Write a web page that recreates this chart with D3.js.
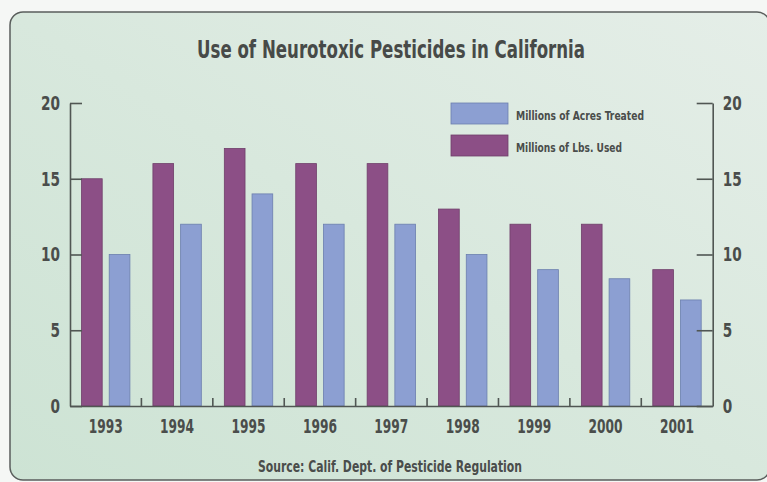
<!DOCTYPE html>
<html><head><meta charset="utf-8">
<script src="https://cdn.jsdelivr.net/npm/d3@7"></script>
<style>
html,body{margin:0;padding:0;background:#f5f7f5;}
svg{display:block;}
text{font-family:"DejaVu Sans Condensed","Liberation Sans Narrow","DejaVu Sans",sans-serif;font-stretch:condensed;fill:#4a4d4b;}
</style></head>
<body>
<script>
const years = ["1993","1994","1995","1996","1997","1998","1999","2000","2001"];
const lbsUsed = [15, 16, 17, 16, 16, 13, 12, 12, 9];
const acresTreated = [10, 12, 14, 12, 12, 10, 9, 8.4, 7];
const yTicks = [0, 5, 10, 15, 20];
const seriesNames = ["Millions of Lbs. Used", "Millions of Acres Treated"];
const titleText = "Use of Neurotoxic Pesticides in California";
const sourceText = "Source: Calif. Dept. of Pesticide Regulation";

const W = 767, H = 482;
const purple = "#8c4f86", blue = "#8c9fd2";
const axisColor = "#505653";

const svg = d3.select("body").append("svg").attr("width", W).attr("height", H);
const defs = svg.append("defs");
const grad = defs.append("linearGradient").attr("id","bg").attr("x1","0").attr("y1","1").attr("x2","1").attr("y2","0");
grad.append("stop").attr("offset","0").attr("stop-color","#cde3d4");
grad.append("stop").attr("offset","0.5").attr("stop-color","#d8e8dd");
grad.append("stop").attr("offset","1").attr("stop-color","#e5eee8");

svg.append("rect").attr("x",10).attr("y",12).attr("width",760).attr("height",468).attr("rx",13)
  .attr("fill","url(#bg)").attr("stroke","#5a5e5c").attr("stroke-width",1.5);

const x0 = 70, x1 = 712.7, yBase = 406, yTop = 103;
const x = d3.scaleBand().domain(years).range([x0, x1]).paddingInner(0).paddingOuter(0);
const xs = d3.scaleBand().domain(["lbs","acres"]).range([0, x.bandwidth()]).paddingInner(0.253).paddingOuter(0.415);
const y = d3.scaleLinear().domain([0, 20]).range([yBase, yTop]);

// title
svg.append("text").attr("x",391).attr("y",58).attr("text-anchor","middle")
  .attr("font-size",24).attr("font-weight","bold").attr("textLength",388).attr("lengthAdjust","spacingAndGlyphs")
  .style("fill","#474a48").text(titleText);

// bars
const g = svg.append("g");
const rows = years.map((yr,i)=>({yr, lbs: lbsUsed[i], acres: acresTreated[i]}));
g.selectAll("rect.lbs").data(rows).join("rect").attr("class","lbs")
  .attr("x", d => x(d.yr) + xs("lbs")).attr("width", xs.bandwidth())
  .attr("y", d => y(d.lbs)).attr("height", d => yBase - y(d.lbs))
  .attr("fill", purple).attr("stroke","#6f3f6a").attr("stroke-width",0.8);
g.selectAll("rect.acres").data(rows).join("rect").attr("class","acres")
  .attr("x", d => x(d.yr) + xs("acres")).attr("width", xs.bandwidth())
  .attr("y", d => y(d.acres)).attr("height", d => yBase - y(d.acres))
  .attr("fill", blue).attr("stroke","#6c7fae").attr("stroke-width",0.8);

// left axis
const la = svg.append("g").attr("transform",`translate(${x0},0)`)
  .call(d3.axisLeft(y).tickValues(yTicks).tickSizeInner(-12).tickSizeOuter(0).tickPadding(10).tickFormat(d3.format("d")));
// right axis
const ra = svg.append("g").attr("transform",`translate(${x1},0)`)
  .call(d3.axisRight(y).tickValues(yTicks).tickSizeInner(-16).tickSizeOuter(0).tickPadding(10).tickFormat(d3.format("d")));
[la, ra].forEach(a => {
  a.selectAll("path.domain").attr("stroke",axisColor).attr("stroke-width",1.6);
  a.selectAll("line").attr("stroke",axisColor).attr("stroke-width",1.6);
  a.selectAll("text").attr("font-size",20).attr("font-weight","bold").style("fill","#4a4d4b").attr("font-family",null)
    .attr("textLength", d => String(d).length * 9.5).attr("lengthAdjust","spacingAndGlyphs");
});

// x axis
const xa = svg.append("g").attr("transform",`translate(0,${yBase})`)
  .call(d3.axisBottom(x).tickSize(0).tickPadding(13));
xa.selectAll("path.domain").attr("stroke",axisColor).attr("stroke-width",1.6);
xa.selectAll("text").attr("font-size",20).attr("font-weight","bold").attr("dy","0.71em").attr("font-family",null)
  .attr("textLength",34).attr("lengthAdjust","spacingAndGlyphs").style("fill","#4a4d4b");
// separators between year groups
svg.append("g").selectAll("line").data(years.slice(1)).join("line")
  .attr("x1", d => x(d)).attr("x2", d => x(d)).attr("y1", yBase - 8).attr("y2", yBase)
  .attr("stroke", axisColor).attr("stroke-width",1.6);

// legend
const leg = [{name: seriesNames[1], color: blue, stroke:"#6c7fae", y: 103},
             {name: seriesNames[0], color: purple, stroke:"#6f3f6a", y: 135}];
const lg = svg.append("g").selectAll("g").data(leg).join("g");
lg.append("rect").attr("x",451).attr("y",d=>d.y).attr("width",57).attr("height",21)
  .attr("fill",d=>d.color).attr("stroke",d=>d.stroke).attr("stroke-width",0.8);
lg.append("text").attr("x",516).attr("y",d=>d.y+17).attr("font-size",13).attr("font-weight","bold")
  .attr("textLength",(d,i)=> i===0?128:106).attr("lengthAdjust","spacingAndGlyphs")
  .style("fill","#4a4d4b").text(d=>d.name);

// source
svg.append("text").attr("x",390).attr("y",472).attr("text-anchor","middle")
  .attr("font-size",16).attr("font-weight","bold").attr("textLength",264).attr("lengthAdjust","spacingAndGlyphs")
  .style("fill","#4a4d4b").text(sourceText);
</script>
</body></html>
